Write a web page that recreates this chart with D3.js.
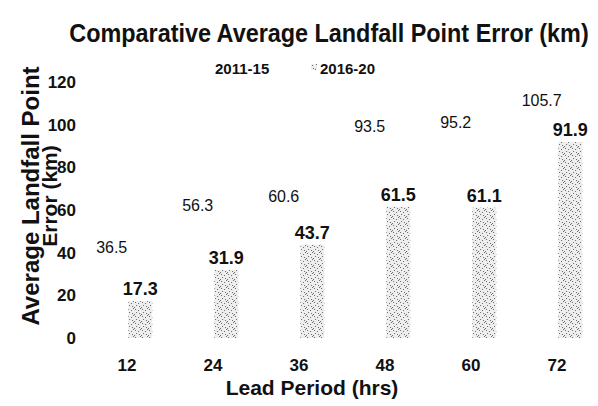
<!DOCTYPE html>
<html lang="en">
<head>
<meta charset="UTF-8" />
<title>Comparative Average Landfall Point Error</title>
<style>
  body { margin: 0; background: #fff; }
  text { font-family: "Liberation Sans", Arial, sans-serif; fill: #111; }
</style>
</head>
<body>
<svg id="svg" width="598" height="406"></svg>
<script src="https://d3js.org/d3.v7.min.js"></script>
<script>
// data
const leadPeriods = ['12', '24', '36', '48', '60', '72'];
const seriesNames = ['2011-15', '2016-20'];
const err2011 = [36.5, 56.3, 60.6, 93.5, 95.2, 105.7];
const err2016 = [17.3, 31.9, 43.7, 61.5, 61.1, 91.9];
const yTicks = [0, 20, 40, 60, 80, 100, 120];

const rows = leadPeriods.map((p, i) => ({ period: p, values: [err2011[i], err2016[i]] }));

const svg = d3.select('#svg');

// speckled fill like the scan
const defs = svg.append('defs');
const pat = defs.append('pattern')
  .attr('id', 'speckle')
  .attr('patternUnits', 'userSpaceOnUse')
  .attr('width', 7).attr('height', 7);
pat.append('rect').attr('width', 7).attr('height', 7).attr('fill', '#eeeeee');
[[1, 1], [4, 2], [2, 4], [5, 5], [0, 6], [6, 0]].forEach(([a, b]) => {
  pat.append('rect').attr('x', a).attr('y', b).attr('width', 1).attr('height', 1).attr('fill', '#6a6a6a');
});

const x = d3.scaleBand().domain(leadPeriods).range([84, 600]).paddingInner(0.35).paddingOuter(0.175);
const x1 = d3.scaleBand().domain(seriesNames).range([0, x.bandwidth()]).padding(0.1);
const y = d3.scaleLinear().domain([0, 120]).range([338, 82]);
const fills = ['#ffffff', 'url(#speckle)'];

// title (narrow look of the scan)
svg.append('g')
  .attr('transform', 'translate(329,42) scale(0.9,1)')
  .append('text')
  .attr('text-anchor', 'middle')
  .style('font-size', '26px').style('font-weight', 'bold')
  .text('Comparative Average Landfall Point Error (km)');

// legend
const legend = svg.append('g');
const legX = [206, 311];
seriesNames.forEach((s, i) => {
  legend.append('rect')
    .attr('x', legX[i]).attr('y', 64).attr('width', 6).attr('height', 6)
    .attr('fill', fills[i]);
  legend.append('text')
    .attr('x', legX[i] + 9).attr('y', 74)
    .style('font-size', '15px').style('font-weight', 'bold')
    .text(s);
});

// y tick labels
svg.append('g').selectAll('text')
  .data(yTicks).enter().append('text')
  .attr('x', 76).attr('y', (d) => y(d)).attr('dy', '0.35em')
  .attr('text-anchor', 'end')
  .style('font-size', '17px').style('font-weight', 'bold')
  .text((d) => d);

// y axis title
const yt = svg.append('text')
  .attr('transform', 'translate(0,196) rotate(-90)')
  .attr('text-anchor', 'middle')
  .style('font-size', '24px').style('font-weight', 'bold');
yt.append('tspan').attr('x', 0).attr('y', 39).text('Average Landfall Point');
yt.append('tspan').attr('x', 0).attr('y', 57).style('font-size', '21px').text('Error (km)');

// bars
const groups = svg.append('g').selectAll('g')
  .data(rows).enter().append('g')
  .attr('transform', (d) => `translate(${x(d.period)},0)`);

groups.selectAll('rect')
  .data((d) => d.values.map((v, i) => ({ s: seriesNames[i], v: v, i: i })))
  .enter().append('rect')
  .attr('x', (d) => x1(d.s))
  .attr('y', (d) => y(d.v))
  .attr('width', x1.bandwidth())
  .attr('height', (d) => y(0) - y(d.v))
  .attr('fill', (d) => fills[d.i]);

groups.selectAll('text.val')
  .data((d) => d.values.map((v, i) => ({ s: seriesNames[i], v: v, i: i })))
  .enter().append('text')
  .attr('class', 'val')
  .attr('x', (d) => x1(d.s) + x1.bandwidth() / 2 - (d.i === 0 ? 2 : 0))
  .attr('y', (d) => y(d.v) - (d.i === 0 ? 7 : 6))
  .attr('text-anchor', 'middle')
  .style('font-size', (d) => (d.i === 0 ? '16px' : '18px'))
  .style('font-weight', (d) => (d.i === 0 ? 'normal' : 'bold'))
  .text((d) => d.v.toFixed(1));

// x category labels
svg.append('g').selectAll('text')
  .data(leadPeriods).enter().append('text')
  .attr('x', (d) => x(d) + x.bandwidth() / 2)
  .attr('y', 371)
  .attr('text-anchor', 'middle')
  .style('font-size', '17px').style('font-weight', 'bold')
  .text((d) => d);

// x axis title
svg.append('text')
  .attr('x', 312).attr('y', 395)
  .attr('text-anchor', 'middle')
  .style('font-size', '21px').style('font-weight', 'bold')
  .text('Lead Period (hrs)');
</script>
</body>
</html>
